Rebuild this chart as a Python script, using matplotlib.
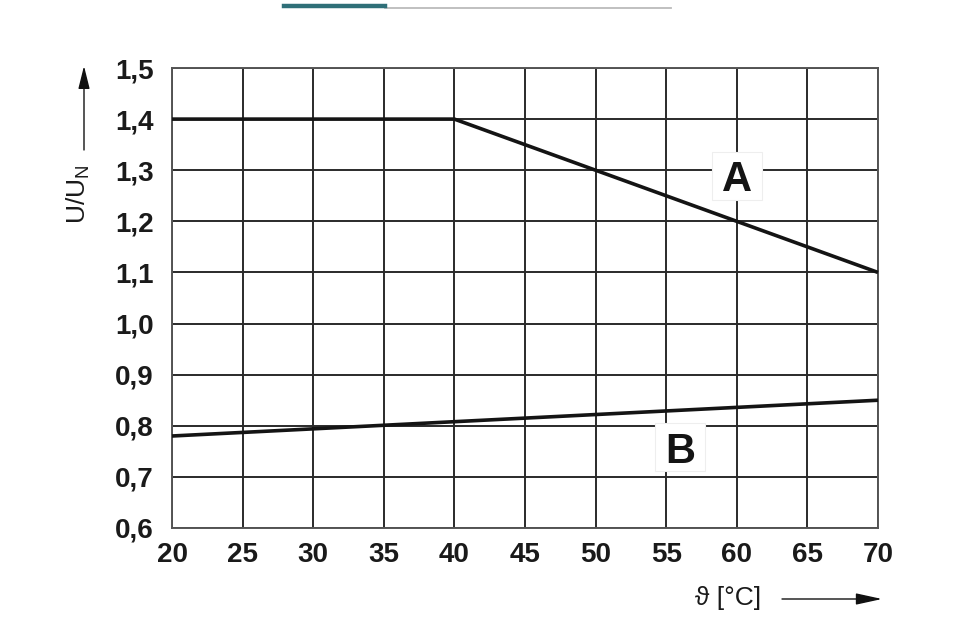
import matplotlib
matplotlib.use("Agg")
import matplotlib.pyplot as plt
from matplotlib.ticker import FuncFormatter
from matplotlib.lines import Line2D
from matplotlib.patches import Rectangle
from matplotlib.transforms import Affine2D, ScaledTranslation

# Data
curve_a_x = [20, 40, 70]
curve_a_y = [1.4, 1.4, 1.1]
curve_b_x = [20, 70]
curve_b_y = [0.78, 0.85]
x_ticks = [20, 25, 30, 35, 40, 45, 50, 55, 60, 65, 70]
y_ticks = [0.6, 0.7, 0.8, 0.9, 1.0, 1.1, 1.2, 1.3, 1.4, 1.5]
label_a = ("A", 60.0, 1.289)
label_b = ("B", 56.0, 0.758)

W, H = 960, 639
fig = plt.figure(figsize=(W / 100, H / 100), dpi=100)
fig.patch.set_facecolor("white")
ax = fig.add_axes([172 / W, 1 - 528 / H, (878 - 172) / W, (528 - 68) / H])

ax.set_xlim(20, 70)
ax.set_ylim(0.6, 1.5)
ax.set_xticks(x_ticks)
ax.set_yticks(y_ticks)
ax.yaxis.set_major_formatter(FuncFormatter(lambda v, p: f"{v:.1f}".replace(".", ",")))
ax.xaxis.set_major_formatter(FuncFormatter(lambda v, p: f"{v:.0f}"))
ax.grid(True, color="#2a2a2a", linewidth=1.4)
ax.set_axisbelow(True)
for s in ax.spines.values():
    s.set_color("#555555")
    s.set_linewidth(1.4)

ax.tick_params(axis="both", length=0, labelsize=20, labelcolor="#1a1a1a")
ax.tick_params(axis="x", pad=10)
ax.tick_params(axis="y", pad=13)
for lab in ax.get_xticklabels() + ax.get_yticklabels():
    lab.set_fontfamily("Liberation Sans")
    lab.set_fontweight("bold")

ax.plot(curve_a_x, curve_a_y, color="#141414", linewidth=2.6, clip_on=False,
        solid_capstyle="butt", zorder=3)
ax.plot(curve_b_x, curve_b_y, color="#141414", linewidth=2.6, clip_on=False,
        solid_capstyle="butt", zorder=3)

for txt, lx, ly in (label_a, label_b):
    box_tr = Affine2D() + ScaledTranslation(lx, ly, ax.transData)
    ax.add_patch(Rectangle((-25, -24), 50, 48, transform=box_tr, facecolor="white",
                           edgecolor="#eeeeee", linewidth=0.8, zorder=4, clip_on=False))
    ax.text(lx, ly, txt, ha="center", va="center_baseline", fontsize=30, fontweight="bold",
            family="Liberation Sans", color="#141414", zorder=5)

# Y axis label with arrow
fig.text(78 / W, 1 - 194 / H, "U/U$_\\mathregular{N}$", rotation=90, ha="center",
         va="center", fontsize=19, family="Liberation Sans", color="#1a1a1a")
ax.annotate("", xy=(84, H - 66), xytext=(84, H - 150), xycoords="figure pixels",
            textcoords="figure pixels",
            arrowprops=dict(arrowstyle="-|>,head_length=1.4,head_width=0.35",
                            color="#111111", lw=1.0, shrinkA=0, shrinkB=0))

# X axis label with arrow
fig.text(728 / W, 1 - 598 / H, "\u03d1 [°C]", ha="center", va="center", fontsize=19,
         family=["Liberation Sans", "DejaVu Sans"], color="#1a1a1a")
ax.annotate("", xy=(882, H - 599), xytext=(782, H - 599), xycoords="figure pixels",
            textcoords="figure pixels",
            arrowprops=dict(arrowstyle="-|>,head_length=1.6,head_width=0.35",
                            color="#111111", lw=1.0, shrinkA=0, shrinkB=0))

# Top decorative bar
fig.add_artist(Line2D([385 / W, 671 / W], [1 - 7.5 / H, 1 - 7.5 / H], color="#bbbbbb",
                      linewidth=1.3))
fig.add_artist(Line2D([284 / W, 385 / W], [1 - 6 / H, 1 - 6 / H], color="#2f6f78",
                      linewidth=3.2))

fig.savefig("out.png", dpi=100, facecolor="white")
